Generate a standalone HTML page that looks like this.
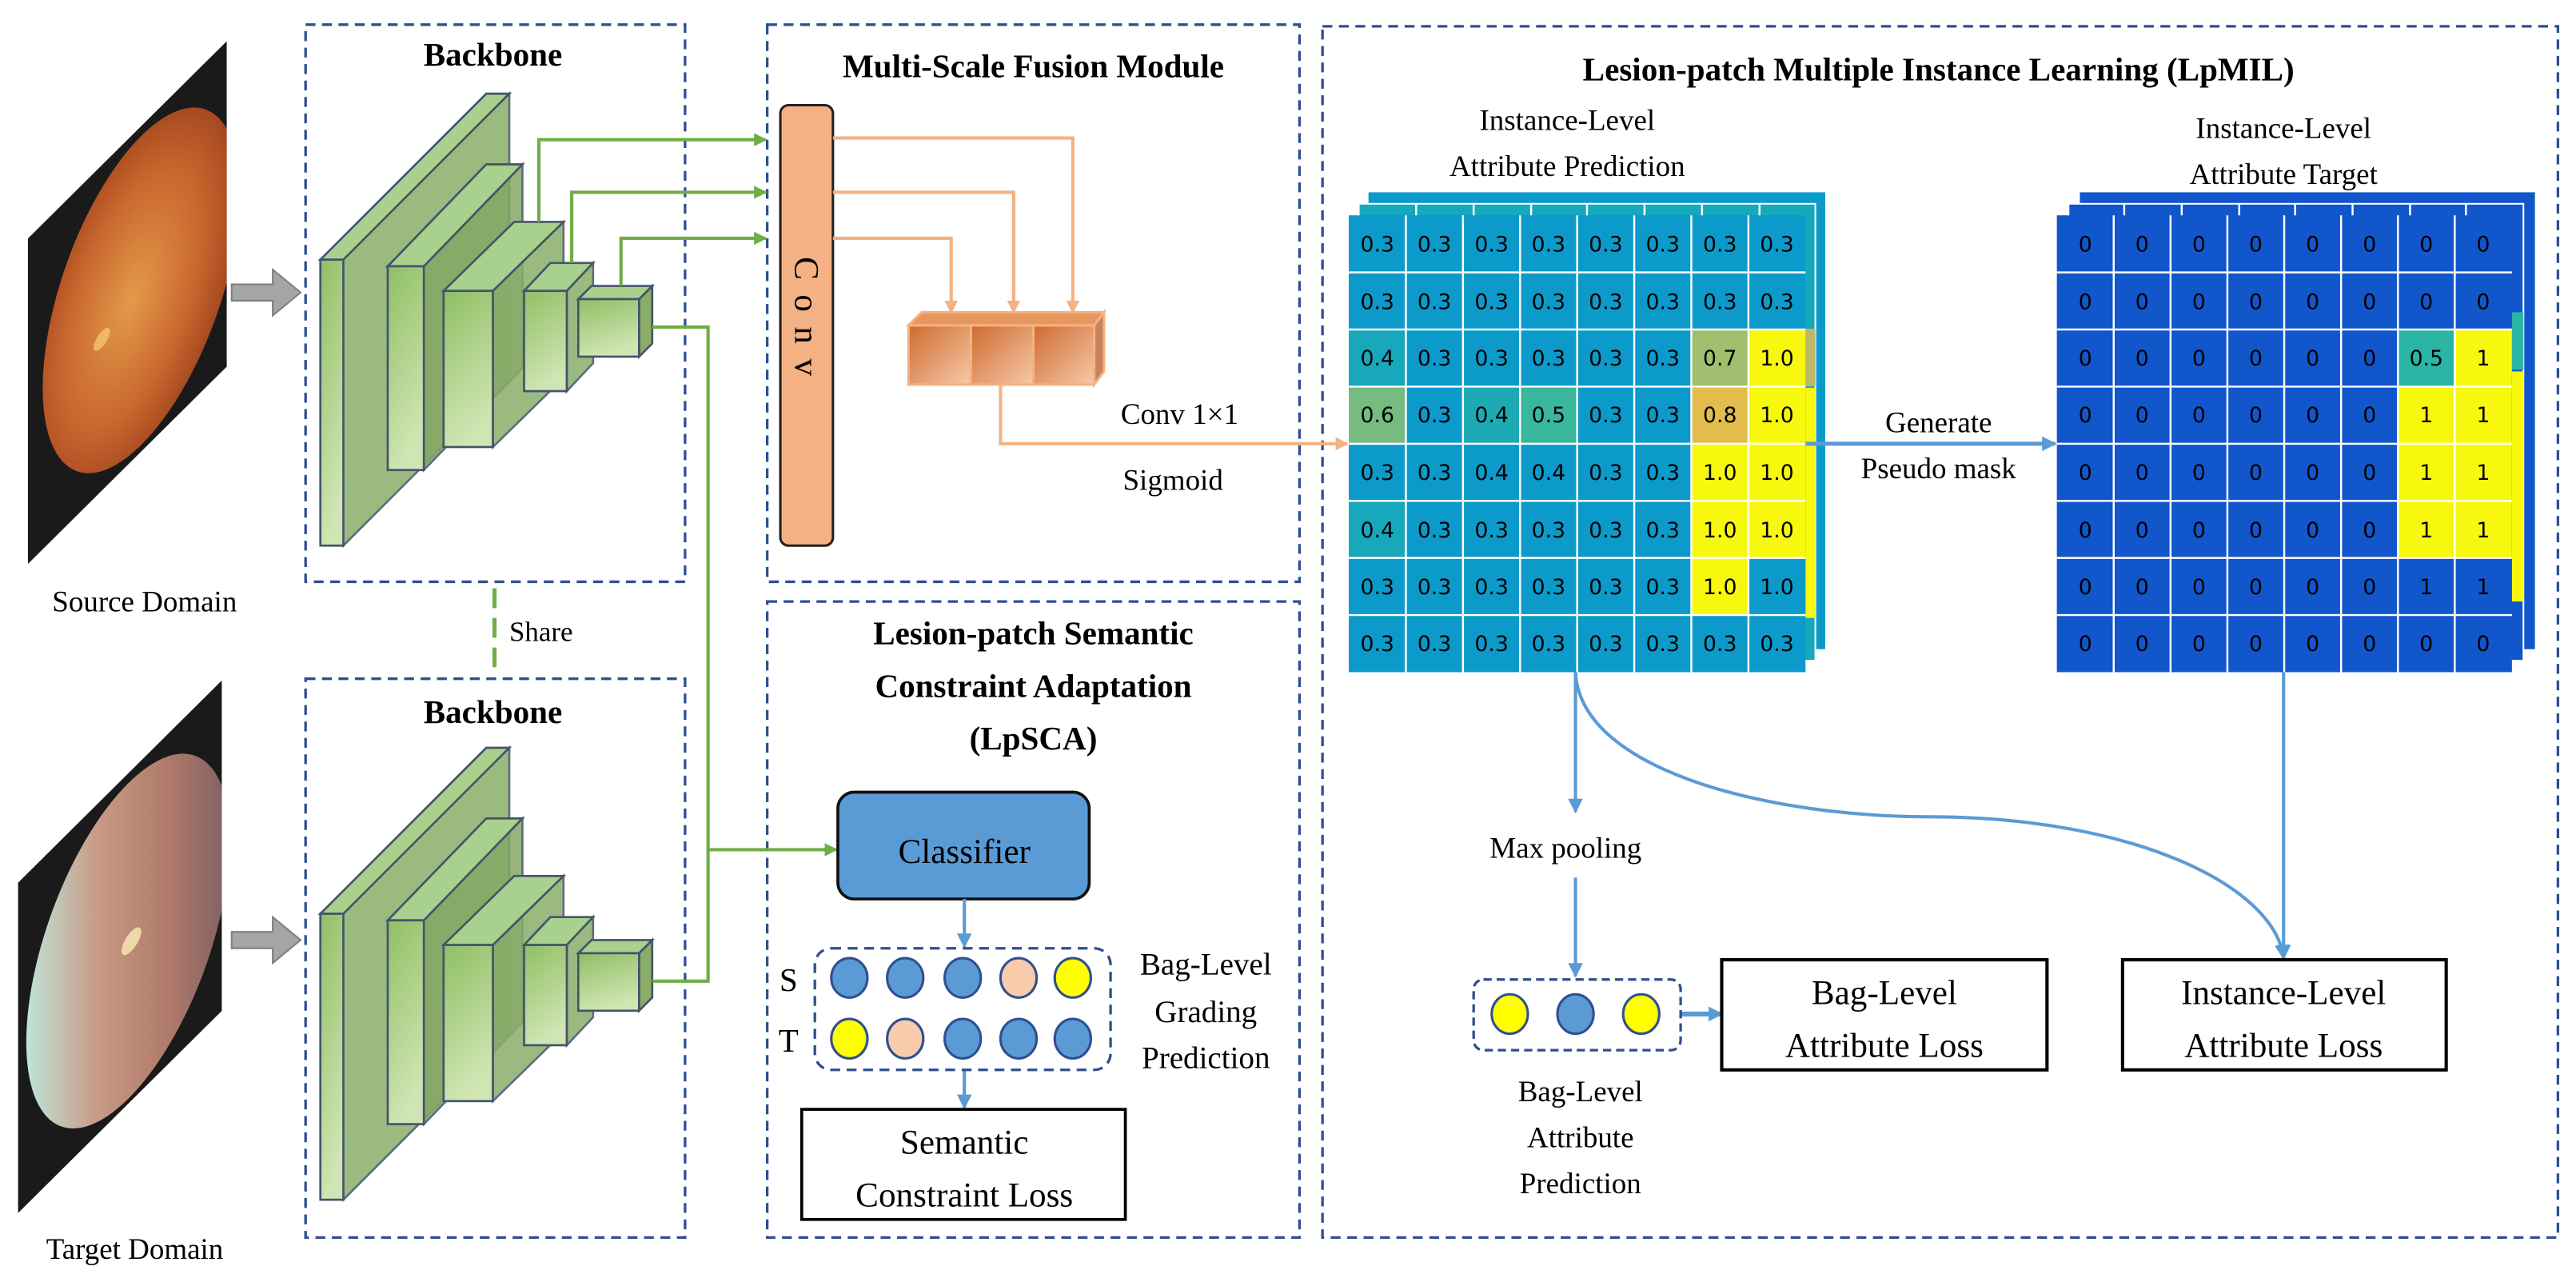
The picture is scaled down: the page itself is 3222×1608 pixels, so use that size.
<!DOCTYPE html>
<html><head><meta charset="utf-8"><style>
html,body{margin:0;padding:0;background:#fff;}
svg{display:block;}
.t{font-family:"Liberation Serif",serif;fill:#000;}
.b{font-family:"Liberation Serif",serif;font-weight:bold;fill:#000;}
.n{font-family:"DejaVu Sans","Liberation Sans",sans-serif;font-size:13px;fill:#000;text-anchor:middle;}
</style></head><body>
<svg width="3222" height="1608" viewBox="0 0 1568 782.5" preserveAspectRatio="none" xmlns="http://www.w3.org/2000/svg">
<defs>
<radialGradient id="src" cx="0.45" cy="0.5" r="0.6"><stop offset="0" stop-color="#e39a4a"/><stop offset="0.6" stop-color="#c8652e"/><stop offset="1" stop-color="#9a3f1c"/></radialGradient>
<linearGradient id="tgt" x1="0" y1="0" x2="1" y2="0"><stop offset="0" stop-color="#bfe4d8"/><stop offset="0.35" stop-color="#c89a85"/><stop offset="0.7" stop-color="#b07a6a"/><stop offset="1" stop-color="#7e6062"/></linearGradient>
<linearGradient id="gf" x1="0" y1="0" x2="0.3" y2="1"><stop offset="0" stop-color="#8fbf63"/><stop offset="1" stop-color="#cfe5b3"/></linearGradient>
<linearGradient id="oc" x1="0" y1="0" x2="1" y2="1"><stop offset="0" stop-color="#cf6a30"/><stop offset="1" stop-color="#f6c9a6"/></linearGradient>
<marker id="ag" markerWidth="8" markerHeight="8" refX="7" refY="4" orient="auto" markerUnits="userSpaceOnUse"><path d="M0,0 L8,4 L0,8 Z" fill="#70ad47"/></marker>
<marker id="ao" markerWidth="8" markerHeight="8" refX="7" refY="4" orient="auto" markerUnits="userSpaceOnUse"><path d="M0,0 L8,4 L0,8 Z" fill="#f4b183"/></marker>
<marker id="ab" markerWidth="9" markerHeight="9" refX="8" refY="4.5" orient="auto" markerUnits="userSpaceOnUse"><path d="M0,0 L9,4.5 L0,9 Z" fill="#5b9bd5"/></marker>
<g id="blocks" stroke="#44546a" stroke-width="1.3">
 <path d="M195,158 L310,57 L310,231 L209,332 Z" fill="#8aae6a" opacity="0.85"/>
 <path d="M195,158 L296,57 L310,57 L209,158 Z" fill="#a9d18e"/>
 <rect x="195" y="158" width="14" height="174" fill="url(#gf)"/>
 <path d="M258,162 L318,100 L318,224 L258,286 Z" fill="#84a866" opacity="0.85"/>
 <path d="M236,162 L296,100 L318,100 L258,162 Z" fill="#a9d18e"/>
 <rect x="236" y="162" width="22" height="124" fill="url(#gf)"/>
 <path d="M300,177 L343,135 L343,230 L300,272 Z" fill="#8aae6a" opacity="0.85"/>
 <path d="M270,177 L313,135 L343,135 L300,177 Z" fill="#a9d18e"/>
 <rect x="270" y="177" width="30" height="95" fill="url(#gf)"/>
 <path d="M345,177 L361,160 L361,221 L345,238 Z" fill="#8aae6a" opacity="0.85"/>
 <path d="M319,177 L335,160 L361,160 L345,177 Z" fill="#a9d18e"/>
 <rect x="319" y="177" width="26" height="61" fill="url(#gf)"/>
 <path d="M389,182 L397,174 L397,209 L389,217 Z" fill="#8aae6a"/>
 <path d="M352,182 L360,174 L397,174 L389,182 Z" fill="#a9d18e"/>
 <rect x="352" y="182" width="37" height="35" fill="url(#gf)"/>
</g>
<g id="arrowg"><path d="M141,173 L166,173 L166,164 L183,178 L166,192 L166,183 L141,183 Z" fill="#a5a5a5" stroke="#7f7f7f" stroke-width="1"/></g>
<clipPath id="cr1"><rect x="17" y="162" width="121" height="198"/></clipPath>
<clipPath id="cr2"><rect x="11" y="548" width="124" height="201"/></clipPath>
</defs>
<rect width="1568" height="782.5" fill="#fff"/>

<g fill="none" stroke="#2f4f8f" stroke-width="1.6" stroke-dasharray="6,4">
<rect x="186" y="15" width="231" height="339"/>
<rect x="186" y="413" width="231" height="340"/>
<rect x="467" y="15" width="324" height="339"/>
<rect x="467" y="366" width="324" height="387"/>
<rect x="805" y="16" width="752" height="737"/>
</g>

<g transform="skewY(-44.77)">
<rect x="17" y="162" width="121" height="198" fill="#1a1a1a"/>
<g clip-path="url(#cr1)">
<ellipse cx="86" cy="262" rx="60" ry="94" fill="url(#src)"/>
<circle cx="62" cy="268" r="5" fill="#f3c56a" opacity="0.8"/>
</g>
</g>
<use href="#arrowg"/>
<text class="t" font-family="Liberation Serif" x="88" y="372" font-size="18" text-anchor="middle">Source Domain</text>

<g transform="skewY(-44.77)">
<rect x="11" y="548" width="124" height="201" fill="#1a1a1a"/>
<g clip-path="url(#cr2)">
<ellipse cx="78" cy="650" rx="62" ry="96" fill="url(#tgt)"/>
<circle cx="80" cy="652" r="6" fill="#f8e4b0" opacity="0.85"/>
</g>
</g>
<use href="#arrowg" y="394"/>
<text class="t" x="82" y="766" font-size="18" text-anchor="middle">Target Domain</text>

<text class="b" x="300" y="40" font-size="20" text-anchor="middle">Backbone</text>
<use href="#blocks"/>
<text class="b" x="300" y="440" font-size="20" text-anchor="middle">Backbone</text>
<use href="#blocks" y="398"/>

<line x1="301" y1="358" x2="301" y2="411" stroke="#70ad47" stroke-width="2.5" stroke-dasharray="12,6"/>
<text class="t" x="310" y="390" font-size="17">Share</text>

<g fill="none" stroke="#70ad47" stroke-width="2">
<path d="M328,135 L328,85 L466,85" marker-end="url(#ag)"/>
<path d="M348,160 L348,117 L466,117" marker-end="url(#ag)"/>
<path d="M378,174 L378,145 L466,145" marker-end="url(#ag)"/>
<path d="M397,199 L431,199 L431,597 L397,597"/>
<path d="M431,517 L509,517" marker-end="url(#ag)"/>
</g>

<text class="b" x="629" y="47" font-size="20" text-anchor="middle">Multi-Scale Fusion Module</text>
<rect x="475" y="64" width="32" height="268" rx="5" fill="#f4b183" stroke="#222" stroke-width="1.5"/>
<text class="t" font-size="21" transform="translate(484,197) rotate(90)" text-anchor="middle" letter-spacing="9">Conv</text>
<g fill="none" stroke="#f4b183" stroke-width="2">
<path d="M507,84 L653,84 L653,190" marker-end="url(#ao)"/>
<path d="M507,117 L617,117 L617,190" marker-end="url(#ao)"/>
<path d="M507,145 L579,145 L579,190" marker-end="url(#ao)"/>
<path d="M609,234 L609,270 L820,270" marker-end="url(#ao)"/>
</g>
<g stroke="#f4b183" stroke-width="1.5">
<path d="M553,198 L561,190 L672,190 L666,198 Z" fill="#e8955e"/>
<path d="M666,198 L672,190 L672,226 L666,234 Z" fill="#c8835a"/>
<rect x="553" y="198" width="38" height="36" fill="url(#oc)"/>
<rect x="591" y="198" width="38" height="36" fill="url(#oc)"/>
<rect x="629" y="198" width="37" height="36" fill="url(#oc)"/>
</g>
<text class="t" x="718" y="258" font-size="18" text-anchor="middle">Conv 1×1</text>
<text class="t" x="714" y="298" font-size="18" text-anchor="middle">Sigmoid</text>

<text class="b" x="629" y="392" font-size="20" text-anchor="middle">Lesion-patch Semantic</text>
<text class="b" x="629" y="424" font-size="20" text-anchor="middle">Constraint Adaptation</text>
<text class="b" x="629" y="456" font-size="20" text-anchor="middle">(LpSCA)</text>
<rect x="510" y="482" width="153" height="65" rx="10" fill="#5b9bd5" stroke="#111" stroke-width="1.8"/>
<text class="t" x="587" y="525" font-size="21" text-anchor="middle">Classifier</text>
<g fill="none" stroke="#5b9bd5" stroke-width="2">
<path d="M587,547 L587,576" marker-end="url(#ab)"/>
<path d="M587,651 L587,674" marker-end="url(#ab)"/>
</g>
<rect x="496" y="577" width="180" height="74" rx="10" fill="none" stroke="#2f4f8f" stroke-width="1.6" stroke-dasharray="6,4"/>
<g stroke="#2f4f8f" stroke-width="1.5">
<ellipse cx="517" cy="595" rx="11" ry="12" fill="#5b9bd5"/>
<ellipse cx="551" cy="595" rx="11" ry="12" fill="#5b9bd5"/>
<ellipse cx="586" cy="595" rx="11" ry="12" fill="#5b9bd5"/>
<ellipse cx="620" cy="595" rx="11" ry="12" fill="#f8cbad"/>
<ellipse cx="653" cy="595" rx="11" ry="12" fill="#ffff00"/>
<ellipse cx="517" cy="632" rx="11" ry="12" fill="#ffff00"/>
<ellipse cx="551" cy="632" rx="11" ry="12" fill="#f8cbad"/>
<ellipse cx="586" cy="632" rx="11" ry="12" fill="#5b9bd5"/>
<ellipse cx="620" cy="632" rx="11" ry="12" fill="#5b9bd5"/>
<ellipse cx="653" cy="632" rx="11" ry="12" fill="#5b9bd5"/>
</g>
<text class="t" x="480" y="603" font-size="20" text-anchor="middle">S</text>
<text class="t" x="480" y="640" font-size="20" text-anchor="middle">T</text>
<text class="t" x="734" y="593" font-size="19" text-anchor="middle">Bag-Level</text>
<text class="t" x="734" y="622" font-size="19" text-anchor="middle">Grading</text>
<text class="t" x="734" y="650" font-size="19" text-anchor="middle">Prediction</text>
<rect x="488" y="675" width="197" height="67" fill="#fff" stroke="#000" stroke-width="1.8"/>
<text class="t" x="587" y="702" font-size="21" text-anchor="middle">Semantic</text>
<text class="t" x="587" y="734" font-size="21" text-anchor="middle">Constraint Loss</text>

<text class="b" x="1180" y="49" font-size="20" text-anchor="middle">Lesion-patch Multiple Instance Learning (LpMIL)</text>
<text class="t" x="954" y="79" font-size="18" text-anchor="middle">Instance-Level</text>
<text class="t" x="954" y="107" font-size="18" text-anchor="middle">Attribute Prediction</text>
<text class="t" x="1390" y="84" font-size="18" text-anchor="middle">Instance-Level</text>
<text class="t" x="1390" y="112" font-size="18" text-anchor="middle">Attribute Target</text>

<rect x="833" y="117" width="278" height="278" fill="#0c9acb"/>
<rect x="827" y="124" width="278" height="278" fill="#14aabb" stroke="#fff" stroke-width="1"/>
<rect x="1099" y="200" width="6" height="35" fill="#bdb86a"/>
<rect x="1099" y="236" width="6" height="140" fill="#f8f80e"/>
<rect x="821" y="131" width="278" height="278" fill="#0c9acb"/>
<g>
<rect x="821" y="200.5" width="34.75" height="34.75" fill="#17a8bb"/>
<rect x="1029.5" y="200.5" width="34.75" height="34.75" fill="#9fbf6e"/>
<rect x="821" y="235.25" width="34.75" height="34.75" fill="#76bb80"/>
<rect x="890.5" y="235.25" width="34.75" height="34.75" fill="#1eaab4"/>
<rect x="925.25" y="235.25" width="34.75" height="34.75" fill="#38b79d"/>
<rect x="1029.5" y="235.25" width="34.75" height="34.75" fill="#e2bc4c"/>
<rect x="821" y="304.75" width="34.75" height="34.75" fill="#17a8bb"/>
<rect x="1064.25" y="200.5" width="34.75" height="139" fill="#f8f80e"/>
<rect x="1029.5" y="270" width="34.75" height="104.25" fill="#f8f80e"/>
</g>
<g stroke="#fff" stroke-width="1.2">
<path d="M855.75,131V409M890.5,131V409M925.25,131V409M960,131V409M994.75,131V409M1029.5,131V409M1064.25,131V409"/>
<path d="M821,165.75H1099M821,200.5H1099M821,235.25H1099M821,270H1099M821,304.75H1099M821,339.5H1099M821,374.25H1099"/>
<path d="M827,124V131M862,124V131M897,124V131M932,124V131M966,124V131M1001,124V131M1036,124V131M1071,124V131"/>
</g>
<g class="n">
<text x="838.4" y="153">0.3</text><text x="873.1" y="153">0.3</text><text x="907.9" y="153">0.3</text><text x="942.6" y="153">0.3</text><text x="977.4" y="153">0.3</text><text x="1012.1" y="153">0.3</text><text x="1046.9" y="153">0.3</text><text x="1081.6" y="153">0.3</text>
<text x="838.4" y="188">0.3</text><text x="873.1" y="188">0.3</text><text x="907.9" y="188">0.3</text><text x="942.6" y="188">0.3</text><text x="977.4" y="188">0.3</text><text x="1012.1" y="188">0.3</text><text x="1046.9" y="188">0.3</text><text x="1081.6" y="188">0.3</text>
<text x="838.4" y="222.5">0.4</text><text x="873.1" y="222.5">0.3</text><text x="907.9" y="222.5">0.3</text><text x="942.6" y="222.5">0.3</text><text x="977.4" y="222.5">0.3</text><text x="1012.1" y="222.5">0.3</text><text x="1046.9" y="222.5">0.7</text><text x="1081.6" y="222.5">1.0</text>
<text x="838.4" y="257">0.6</text><text x="873.1" y="257">0.3</text><text x="907.9" y="257">0.4</text><text x="942.6" y="257">0.5</text><text x="977.4" y="257">0.3</text><text x="1012.1" y="257">0.3</text><text x="1046.9" y="257">0.8</text><text x="1081.6" y="257">1.0</text>
<text x="838.4" y="292">0.3</text><text x="873.1" y="292">0.3</text><text x="907.9" y="292">0.4</text><text x="942.6" y="292">0.4</text><text x="977.4" y="292">0.3</text><text x="1012.1" y="292">0.3</text><text x="1046.9" y="292">1.0</text><text x="1081.6" y="292">1.0</text>
<text x="838.4" y="327">0.4</text><text x="873.1" y="327">0.3</text><text x="907.9" y="327">0.3</text><text x="942.6" y="327">0.3</text><text x="977.4" y="327">0.3</text><text x="1012.1" y="327">0.3</text><text x="1046.9" y="327">1.0</text><text x="1081.6" y="327">1.0</text>
<text x="838.4" y="361.5">0.3</text><text x="873.1" y="361.5">0.3</text><text x="907.9" y="361.5">0.3</text><text x="942.6" y="361.5">0.3</text><text x="977.4" y="361.5">0.3</text><text x="1012.1" y="361.5">0.3</text><text x="1046.9" y="361.5">1.0</text><text x="1081.6" y="361.5">1.0</text>
<text x="838.4" y="396">0.3</text><text x="873.1" y="396">0.3</text><text x="907.9" y="396">0.3</text><text x="942.6" y="396">0.3</text><text x="977.4" y="396">0.3</text><text x="1012.1" y="396">0.3</text><text x="1046.9" y="396">0.3</text><text x="1081.6" y="396">0.3</text>
</g>

<path d="M1099,270 L1251,270" stroke="#5b9bd5" stroke-width="2.5" fill="none" marker-end="url(#ab)"/>
<text class="t" x="1180" y="263" font-size="18" text-anchor="middle">Generate</text>
<text class="t" x="1180" y="291" font-size="18" text-anchor="middle">Pseudo mask</text>

<rect x="1266" y="117" width="277" height="278" fill="#1256cc"/>
<rect x="1259" y="124" width="277" height="278" fill="#1256cc" stroke="#fff" stroke-width="1"/>
<rect x="1529" y="190" width="7" height="35" fill="#2bb5a4"/>
<rect x="1529" y="226" width="7" height="140" fill="#f8f80e"/>
<rect x="1252" y="131" width="277" height="278" fill="#1256cc"/>
<rect x="1459.6" y="200.5" width="34.6" height="34.75" fill="#2bb5a4"/>
<rect x="1494.2" y="200.5" width="34.8" height="139" fill="#f8f80e"/>
<rect x="1459.6" y="235.25" width="34.6" height="104.25" fill="#f8f80e"/>
<g stroke="#fff" stroke-width="1.2">
<path d="M1286.6,131V409M1321.2,131V409M1355.8,131V409M1390.4,131V409M1425,131V409M1459.6,131V409M1494.2,131V409"/>
<path d="M1252,165.75H1529M1252,200.5H1529M1252,235.25H1529M1252,270H1529M1252,304.75H1529M1252,339.5H1529M1252,374.25H1529"/>
<path d="M1259,124V131M1293,124V131M1328,124V131M1363,124V131M1397,124V131M1432,124V131M1467,124V131M1501,124V131"/>
</g>
<g class="n">
<text y="153"><tspan x="1269.3">0</tspan><tspan x="1303.9">0</tspan><tspan x="1338.5">0</tspan><tspan x="1373.1">0</tspan><tspan x="1407.7">0</tspan><tspan x="1442.3">0</tspan><tspan x="1476.9">0</tspan><tspan x="1511.5">0</tspan></text>
<text y="188"><tspan x="1269.3">0</tspan><tspan x="1303.9">0</tspan><tspan x="1338.5">0</tspan><tspan x="1373.1">0</tspan><tspan x="1407.7">0</tspan><tspan x="1442.3">0</tspan><tspan x="1476.9">0</tspan><tspan x="1511.5">0</tspan></text>
<text y="222.5"><tspan x="1269.3">0</tspan><tspan x="1303.9">0</tspan><tspan x="1338.5">0</tspan><tspan x="1373.1">0</tspan><tspan x="1407.7">0</tspan><tspan x="1442.3">0</tspan><tspan x="1476.9">0.5</tspan><tspan x="1511.5">1</tspan></text>
<text y="257"><tspan x="1269.3">0</tspan><tspan x="1303.9">0</tspan><tspan x="1338.5">0</tspan><tspan x="1373.1">0</tspan><tspan x="1407.7">0</tspan><tspan x="1442.3">0</tspan><tspan x="1476.9">1</tspan><tspan x="1511.5">1</tspan></text>
<text y="292"><tspan x="1269.3">0</tspan><tspan x="1303.9">0</tspan><tspan x="1338.5">0</tspan><tspan x="1373.1">0</tspan><tspan x="1407.7">0</tspan><tspan x="1442.3">0</tspan><tspan x="1476.9">1</tspan><tspan x="1511.5">1</tspan></text>
<text y="327"><tspan x="1269.3">0</tspan><tspan x="1303.9">0</tspan><tspan x="1338.5">0</tspan><tspan x="1373.1">0</tspan><tspan x="1407.7">0</tspan><tspan x="1442.3">0</tspan><tspan x="1476.9">1</tspan><tspan x="1511.5">1</tspan></text>
<text y="361.5"><tspan x="1269.3">0</tspan><tspan x="1303.9">0</tspan><tspan x="1338.5">0</tspan><tspan x="1373.1">0</tspan><tspan x="1407.7">0</tspan><tspan x="1442.3">0</tspan><tspan x="1476.9">1</tspan><tspan x="1511.5">1</tspan></text>
<text y="396"><tspan x="1269.3">0</tspan><tspan x="1303.9">0</tspan><tspan x="1338.5">0</tspan><tspan x="1373.1">0</tspan><tspan x="1407.7">0</tspan><tspan x="1442.3">0</tspan><tspan x="1476.9">0</tspan><tspan x="1511.5">0</tspan></text>
</g>

<g fill="none" stroke="#5b9bd5" stroke-width="2">
<path d="M959,409 L959,494" marker-end="url(#ab)"/>
<path d="M959,534 L959,594" marker-end="url(#ab)"/>
<path d="M959,409 C962,470 1080,497 1174,497 C1300,497 1385,540 1390,583" marker-end="url(#ab)"/>
<path d="M1390,409 L1390,583" marker-end="url(#ab)"/>
<path d="M1023,617 L1048,617" stroke-width="3" marker-end="url(#ab)"/>
</g>
<text class="t" x="953" y="522" font-size="18" text-anchor="middle">Max pooling</text>
<rect x="897" y="596" width="126" height="43" rx="6" fill="none" stroke="#2f4f8f" stroke-width="1.6" stroke-dasharray="5,3"/>
<g stroke="#2f4f8f" stroke-width="1.5">
<ellipse cx="919" cy="617" rx="11" ry="12" fill="#ffff00"/>
<ellipse cx="959" cy="617" rx="11" ry="12" fill="#5b9bd5"/>
<ellipse cx="999" cy="617" rx="11" ry="12" fill="#ffff00"/>
</g>
<text class="t" x="962" y="670" font-size="18" text-anchor="middle">Bag-Level</text>
<text class="t" x="962" y="698" font-size="18" text-anchor="middle">Attribute</text>
<text class="t" x="962" y="726" font-size="18" text-anchor="middle">Prediction</text>
<rect x="1048" y="584" width="198" height="67" fill="#fff" stroke="#000" stroke-width="2"/>
<text class="t" x="1147" y="611" font-size="21" text-anchor="middle">Bag-Level</text>
<text class="t" x="1147" y="643" font-size="21" text-anchor="middle">Attribute Loss</text>
<rect x="1292" y="584" width="197" height="67" fill="#fff" stroke="#000" stroke-width="2"/>
<text class="t" x="1390" y="611" font-size="21" text-anchor="middle">Instance-Level</text>
<text class="t" x="1390" y="643" font-size="21" text-anchor="middle">Attribute Loss</text>
</svg>
</body></html>
